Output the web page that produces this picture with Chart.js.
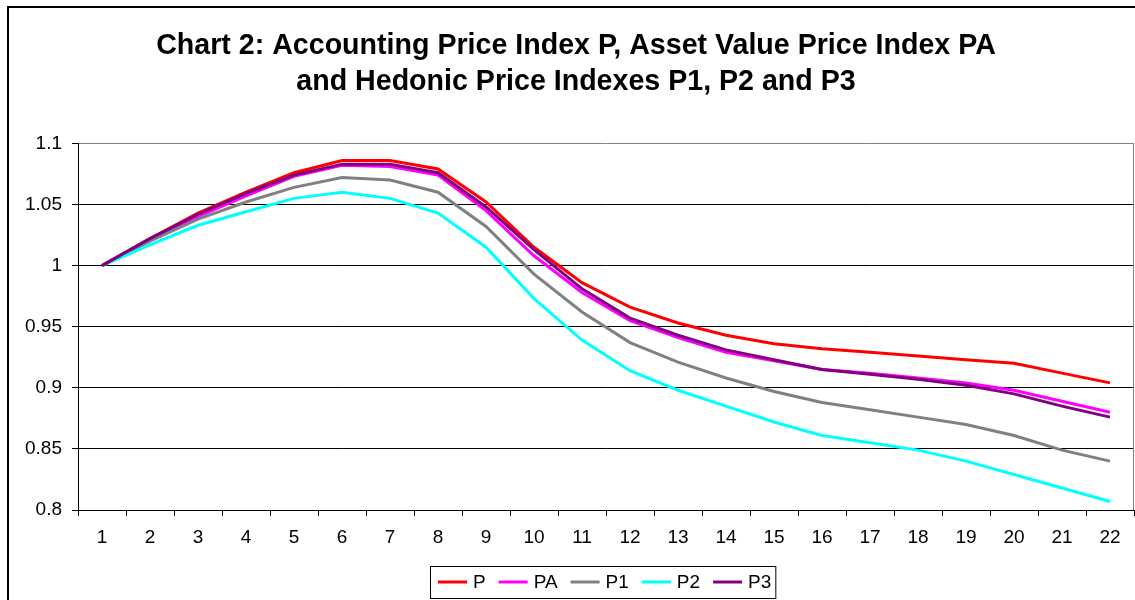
<!DOCTYPE html>
<html>
<head>
<meta charset="utf-8">
<script src="https://cdn.jsdelivr.net/npm/chart.js@4/dist/chart.umd.min.js"></script>
<style>
  html, body { margin: 0; padding: 0; background: #fff; }
  #wrap { width: 1135px; height: 600px; position: relative; }
</style>
</head>
<body>
<div id="wrap"><canvas id="chart2"></canvas></div>
<script>
const periods = ['1','2','3','4','5','6','7','8','9','10','11','12','13','14','15','16','17','18','19','20','21','22'];

const seriesP  = [1.000, 1.022, 1.043, 1.060, 1.076, 1.086, 1.086, 1.079, 1.052, 1.015, 0.986, 0.966, 0.953, 0.943, 0.936, 0.932, 0.929, 0.926, 0.923, 0.920, 0.912, 0.904];
const seriesPA = [1.000, 1.021, 1.040, 1.057, 1.073, 1.082, 1.081, 1.074, 1.045, 1.008, 0.978, 0.955, 0.941, 0.929, 0.922, 0.915, 0.912, 0.908, 0.904, 0.898, 0.889, 0.880];
const seriesP1 = [1.000, 1.020, 1.038, 1.052, 1.064, 1.072, 1.070, 1.060, 1.032, 0.993, 0.962, 0.937, 0.921, 0.908, 0.897, 0.888, 0.882, 0.876, 0.870, 0.861, 0.849, 0.840];
const seriesP2 = [1.000, 1.017, 1.033, 1.044, 1.055, 1.060, 1.055, 1.043, 1.015, 0.973, 0.939, 0.914, 0.898, 0.885, 0.872, 0.861, 0.855, 0.849, 0.840, 0.829, 0.818, 0.807];
const seriesP3 = [1.000, 1.022, 1.042, 1.059, 1.074, 1.083, 1.083, 1.076, 1.048, 1.013, 0.981, 0.957, 0.943, 0.931, 0.923, 0.915, 0.911, 0.907, 0.902, 0.895, 0.885, 0.876];

const seriesNames = ['P', 'PA', 'P1', 'P2', 'P3'];
const seriesColors = ['#ff0000', '#ff00ff', '#808080', '#00ffff', '#800080'];
const titleLines = [
  'Chart 2: Accounting Price Index P, Asset Value Price Index PA',
  'and Hedonic Price Indexes P1, P2 and P3'
];

const FONT = 'Arial, "Liberation Sans", sans-serif';

function makeLine(i, data) {
  return {
    label: seriesNames[i],
    data: data,
    borderColor: seriesColors[i],
    backgroundColor: seriesColors[i],
    borderWidth: 3,
    pointRadius: 0,
    tension: 0,
    fill: false,
    order: 5 - i,
  };
}

// outer frame, plot border and the boxed legend like the original sheet
const frame = {
  id: 'frame',
  beforeDraw(chart) {
    const ctx = chart.ctx;
    ctx.save();
    ctx.fillStyle = '#fff';
    ctx.fillRect(0, 0, chart.width, chart.height);
    ctx.strokeStyle = '#000';
    ctx.lineWidth = 2;
    ctx.strokeRect(8, 7, 1200, 700);
    ctx.restore();
  },
  afterDraw(chart) {
    const ctx = chart.ctx;
    const a = chart.chartArea;
    ctx.save();
    ctx.strokeStyle = '#808080';
    ctx.lineWidth = 1;
    ctx.beginPath();
    ctx.moveTo(Math.round(a.right) - 0.5, a.top);
    ctx.lineTo(Math.round(a.right) - 0.5, a.bottom);
    ctx.stroke();

    // legend
    ctx.font = '19px ' + FONT;
    ctx.textBaseline = 'middle';
    const cy = 582;
    let x = 438;
    const items = [];
    seriesNames.forEach((name, i) => {
      items.push({ x, name, color: seriesColors[i] });
      x += 29 + 6 + ctx.measureText(name).width + 13;
    });
    const right = x - 13 + 4;
    ctx.strokeStyle = '#000';
    ctx.lineWidth = 1;
    ctx.strokeRect(430.5, 566.5, right - 430, 32);
    items.forEach(it => {
      ctx.strokeStyle = it.color;
      ctx.lineWidth = 3;
      ctx.beginPath();
      ctx.moveTo(it.x, cy);
      ctx.lineTo(it.x + 29, cy);
      ctx.stroke();
      ctx.fillStyle = '#000';
      ctx.fillText(it.name, it.x + 35, cy + 1);
    });
    ctx.restore();
  }
};

new Chart(document.getElementById('chart2'), {
  type: 'line',
  data: {
    labels: periods,
    datasets: [
      makeLine(0, seriesP),
      makeLine(1, seriesPA),
      makeLine(2, seriesP1),
      makeLine(3, seriesP2),
      makeLine(4, seriesP3),
    ],
  },
  options: {
    responsive: true,
    maintainAspectRatio: false,
    animation: false,
    layout: { padding: { left: 18, right: 1, top: 0, bottom: 0 } },
    plugins: {
      legend: { display: false },
      tooltip: { enabled: false },
      title: {
        display: true,
        text: titleLines,
        color: '#000',
        font: { family: FONT, size: 28.6, weight: 'bold', lineHeight: 1.23 },
        padding: { top: 29, bottom: 44 },
      },
    },
    scales: {
      x: {
        offset: true,
        grid: { offset: true, drawOnChartArea: false, drawTicks: true, tickLength: 6, color: '#000' },
        border: { color: '#000', width: 1 },
        ticks: { color: '#000', padding: 10, maxRotation: 0, autoSkip: false, font: { family: FONT, size: 19 } },
        afterFit(scale) { scale.height = 90; },
      },
      y: {
        min: 0.8,
        max: 1.1,
        ticks: {
          stepSize: 0.05,
          color: '#000',
          padding: 10,
          font: { family: FONT, size: 19 },
          callback: (v) => String(+Number(v).toFixed(2)),
        },
        grid: {
          tickLength: 6,
          color: (c) => (c.tick && Math.abs(c.tick.value - 1.1) < 1e-6 ? '#808080' : '#000'),
          tickColor: '#000',
        },
        border: { color: '#000', width: 1 },
        afterFit(scale) { scale.width = 60; },
      },
    },
  },
  plugins: [frame],
});
</script>
</body>
</html>
